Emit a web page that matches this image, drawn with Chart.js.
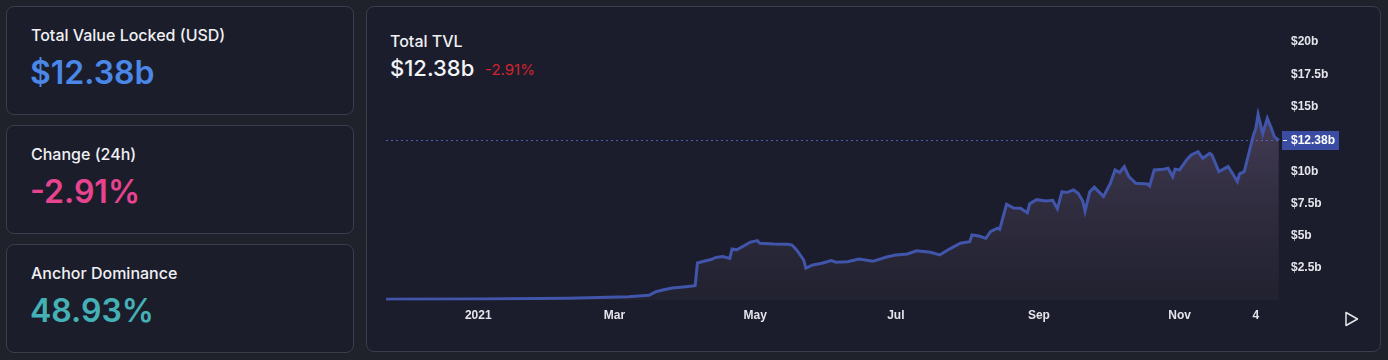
<!DOCTYPE html>
<html>
<head>
<meta charset="utf-8">
<script src="https://cdn.jsdelivr.net/npm/chart.js@4.4.1/dist/chart.umd.min.js"></script>
<style>
  html, body { margin: 0; padding: 0; }
  body {
    width: 1388px; height: 360px; overflow: hidden; position: relative;
    background: #1f212b; font-family: Inter, "Noto Sans", sans-serif; color: #ececf1;
  }
  .card {
    position: absolute; left: 6px; width: 348px; box-sizing: border-box;
    background: #1b1d2b; border: 1px solid #3a3d4c; border-radius: 8px;
  }
  .panel {
    position: absolute; left: 366px; top: 6px; width: 1015px; height: 346px; box-sizing: border-box;
    background: #1b1d2c; border: 1px solid #3a3d4c; border-radius: 8px;
  }
  .txt { position: absolute; white-space: nowrap; }
  .ttl { font-size: 16px; line-height: 16px; font-weight: 500; color: #f0f0f4; }
  .big { font-size: 32px; line-height: 32px; font-weight: 600; }
  #wrap { position: absolute; left: 366px; top: 6px; width: 1014px; height: 346px; }
</style>
</head>
<body>
<div class="card" style="top:6px;height:109px"></div>
<div class="card" style="top:125px;height:109px"></div>
<div class="card" style="top:244px;height:109px"></div>
<div class="panel"></div>

<div class="txt ttl" style="left:31px;top:27px">Total Value Locked (USD)</div>
<div class="txt big" style="left:30px;top:57px;color:#4a87e6">$12.38b</div>
<div class="txt ttl" style="left:31px;top:146px">Change (24h)</div>
<div class="txt big" style="left:30px;top:176px;color:#e8438f">-2.91%</div>
<div class="txt ttl" style="left:31px;top:265px">Anchor Dominance</div>
<div class="txt big" style="left:30px;top:295px;color:#44b1b6">48.93%</div>

<div class="txt ttl" style="left:390px;top:33px">Total TVL</div>
<div class="txt" style="left:390px;top:57px;font-size:22px;line-height:22px;font-weight:500;color:#f4f4f7">$12.38b</div>
<div class="txt" style="left:485px;top:62px;font-size:15px;line-height:15px;color:#d3232c">-2.91%</div>

<div id="wrap"><canvas id="tvlChart"></canvas></div>

<svg style="position:absolute;left:1344px;top:311px" width="16" height="16" viewBox="0 0 16 16">
  <path d="M2 1.5 L13.5 8 L2 14.5 Z" fill="none" stroke="#e6e6ea" stroke-width="1.5" stroke-linejoin="round"/>
</svg>

<script>
// days counted from 1 Jan 2021, TVL in billions USD
const days = [-40, 0, 39, 65, 74, 77, 80, 84, 90, 94, 95, 99, 101, 103, 106, 109, 110, 112, 115, 118,
  121, 122, 128, 134, 136, 138, 141, 142, 145, 149, 153, 155, 160, 165, 171, 177, 181, 186, 190, 196,
  200, 204, 209, 213, 214, 217, 220, 222, 225, 226, 229, 232, 235, 238, 239, 242, 246, 249, 251, 253,
  255, 258, 260, 262, 263, 265, 267, 269, 271, 274, 276, 278, 280, 282, 285, 290, 291, 293, 297, 299,
  301, 302, 304, 307, 309, 312, 314, 317, 318, 321, 325, 327, 329, 330, 332, 334, 336, 337, 338, 340,
  342, 344, 345, 347];
const tvl = [0.09, 0.12, 0.17, 0.29, 0.40, 0.68, 0.81, 0.97, 1.07, 1.15, 2.90, 3.09, 3.17, 3.33, 3.40, 3.26, 3.98, 3.92, 4.22, 4.52,
  4.63, 4.42, 4.37, 4.35, 4.29, 3.91, 3.14, 2.50, 2.75, 2.88, 3.08, 2.96, 3.00, 3.21, 3.03, 3.36, 3.52, 3.60, 3.85, 3.73,
  3.52, 3.96, 4.43, 4.55, 5.07, 4.99, 4.81, 5.32, 5.59, 5.50, 7.45, 7.15, 7.14, 6.78, 7.49, 7.80, 7.70, 7.75, 7.10, 8.42,
  8.35, 8.55, 8.30, 7.70, 6.90, 8.40, 8.77, 8.40, 8.05, 9.07, 10.10, 9.90, 10.36, 9.58, 9.07, 9.02, 8.86, 10.10, 10.16, 10.23,
  9.58, 10.16, 10.10, 10.87, 11.26, 11.52, 11.00, 11.39, 11.26, 9.97, 10.36, 9.80, 9.20, 9.80, 9.97, 11.39, 12.80, 13.30, 14.40, 12.90,
  14.10, 13.20, 12.68, 12.38];

const yTicks = [2.5, 5, 7.5, 10, 12.5, 15, 17.5, 20];
const yTickLabels = ["$2.5b", "$5b", "$7.5b", "$10b", "$12.5b", "$15b", "$17.5b", "$20b"];
const xTicks = [0, 59, 120, 181, 243, 304, 337];
const xTickLabels = ["2021", "Mar", "May", "Jul", "Sep", "Nov", "4"];

const lastValue = tvl[tvl.length - 1];
const lastLabel = "$12.38b";

const lineColor = "#4155ab";
const tickFont = { family: "'Liberation Sans', Arial, sans-serif", size: 12, weight: "bold" };

// dotted price line + price tag on the right axis
const lastPricePlugin = {
  id: "lastPrice",
  afterDatasetsDraw(chart) {
    const { ctx, chartArea, scales } = chart;
    const y = Math.round(scales.y.getPixelForValue(lastValue)) + 0.5;
    ctx.save();
    ctx.strokeStyle = "rgba(88,104,205,0.85)";
    ctx.lineWidth = 1;
    ctx.setLineDash([2, 3]);
    ctx.beginPath();
    ctx.moveTo(chartArea.left, y);
    ctx.lineTo(chartArea.right, y);
    ctx.stroke();
    ctx.setLineDash([]);
    ctx.fillStyle = "#3a4da2";
    ctx.fillRect(chartArea.right + 2, y - 9.5, 57, 19);
    ctx.fillStyle = "#ffffff";
    ctx.fillRect(chartArea.right + 3, y - 0.5, 4, 1);
    ctx.font = "bold 12px 'Liberation Sans', Arial, sans-serif";
    ctx.textBaseline = "middle";
    ctx.fillText(lastLabel, chartArea.right + 11, y);
    ctx.restore();
  },
};

const canvas = document.getElementById("tvlChart");
const ctx = canvas.getContext("2d");

new Chart(ctx, {
  type: "line",
  data: {
    datasets: [{
      data: days.map((d, i) => ({ x: d, y: tvl[i] })),
      borderColor: lineColor,
      borderWidth: 3,
      tension: 0,
      pointRadius: 0,
      fill: "origin",
      backgroundColor: (c) => {
        const area = c.chart.chartArea;
        if (!area) return "rgba(60,55,80,0.4)";
        const g = c.chart.ctx.createLinearGradient(0, area.top, 0, area.bottom);
        g.addColorStop(0, "rgba(92,80,112,0.85)");
        g.addColorStop(0.4, "rgba(76,66,92,0.75)");
        g.addColorStop(1, "rgba(44,42,56,0.4)");
        return g;
      },
    }],
  },
  options: {
    responsive: true,
    maintainAspectRatio: false,
    animation: false,
    layout: { padding: { left: 20, top: 23, right: 0, bottom: 0 } },
    plugins: { legend: { display: false }, tooltip: { enabled: false } },
    scales: {
      x: {
        type: "linear",
        min: -40,
        max: 347.5,
        grid: { display: false, drawTicks: false },
        border: { display: false },
        afterBuildTicks: axis => { axis.ticks = xTicks.map(v => ({ value: v })); },
        afterFit: axis => { axis.height = 51.5; },
        ticks: {
          color: "#e4e4ea",
          font: tickFont,
          padding: 8,
          maxRotation: 0,
          autoSkip: false,
          callback: v => xTickLabels[xTicks.indexOf(v)],
        },
      },
      y: {
        position: "right",
        min: 0,
        max: 21,
        grid: { display: false, drawTicks: false },
        border: { display: false },
        afterBuildTicks: axis => { axis.ticks = yTicks.map(v => ({ value: v })); },
        afterFit: axis => { axis.width = 100; },
        ticks: {
          color: "#e4e4ea",
          font: tickFont,
          padding: 11,
          autoSkip: false,
          callback: v => (v === 12.5 ? "" : yTickLabels[yTicks.indexOf(v)]),
        },
      },
    },
  },
  plugins: [lastPricePlugin],
});
</script>
</body>
</html>
